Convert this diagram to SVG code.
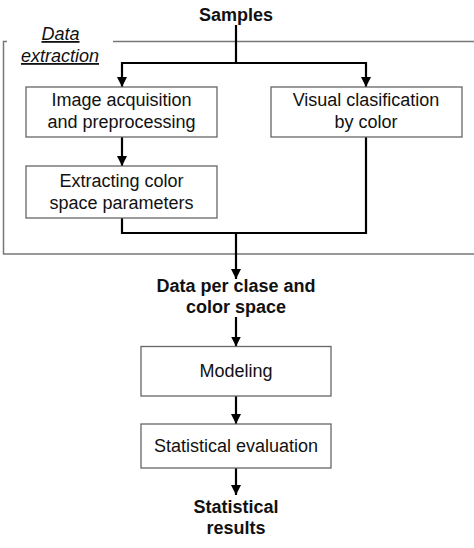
<svg xmlns="http://www.w3.org/2000/svg" width="474" height="548" viewBox="0 0 474 548">
<defs>
<marker id="ah" viewBox="0 0 10 10" refX="10" refY="5" markerWidth="10" markerHeight="10" markerUnits="userSpaceOnUse" orient="auto">
<path d="M0,0 L10,5 L0,10 z" fill="#000"/>
</marker>
<style>
.box{fill:#fff;stroke:#666;stroke-width:1.3}
.t{font-family:"Liberation Sans",Arial,sans-serif;font-size:18px;fill:#111;text-anchor:middle}
.b{font-weight:bold}
.c{fill:none;stroke:#000;stroke-width:2.2}
.grp{fill:none;stroke:#777;stroke-width:1.5}
</style>
</defs>
<rect width="474" height="548" fill="#fff"/>
<g id="group-data-extraction">
<path class="grp" d="M113,41.5 H476 M7,41.5 H3.5 V254 H476"/>
<text class="t" x="60.5" y="40" font-style="italic" text-decoration="underline">Data</text>
<text class="t" x="60" y="62" font-style="italic" text-decoration="underline">extraction</text>
</g>
<g id="connectors">
<path class="c" d="M236,25 V63"/>
<path class="c" d="M236,63 H122 V87" marker-end="url(#ah)"/>
<path class="c" d="M236,63 H366 V87" marker-end="url(#ah)"/>
<path class="c" d="M122,137 V166" marker-end="url(#ah)"/>
<path class="c" d="M122,218 V233 H366 V137"/>
<path class="c" d="M236,233 V279" marker-end="url(#ah)"/>
<path class="c" d="M236,317 V346.5" marker-end="url(#ah)"/>
<path class="c" d="M236,396 V424" marker-end="url(#ah)"/>
<path class="c" d="M236,468 V495" marker-end="url(#ah)"/>
</g>
<g id="node-samples">
<text class="t b" x="236" y="21">Samples</text>
</g>
<g id="node-image">
<rect class="box" x="26" y="87" width="191" height="50"/>
<text class="t" x="121.5" y="106">Image acquisition</text>
<text class="t" x="121.5" y="128">and preprocessing</text>
</g>
<g id="node-visual">
<rect class="box" x="271" y="87" width="191" height="50"/>
<text class="t" x="366" y="106">Visual clasification</text>
<text class="t" x="366" y="128">by color</text>
</g>
<g id="node-extracting">
<rect class="box" x="26" y="166" width="191" height="52"/>
<text class="t" x="121.5" y="187">Extracting color</text>
<text class="t" x="121.5" y="209">space parameters</text>
</g>
<g id="node-data">
<text class="t b" x="236" y="292">Data per clase and</text>
<text class="t b" x="236" y="313">color space</text>
</g>
<g id="node-modeling">
<rect class="box" x="141" y="346.5" width="190" height="49.5"/>
<text class="t" x="236" y="377">Modeling</text>
</g>
<g id="node-eval">
<rect class="box" x="141" y="424" width="190" height="44"/>
<text class="t" x="236" y="452">Statistical evaluation</text>
</g>
<g id="node-results">
<text class="t b" x="236" y="513">Statistical</text>
<text class="t b" x="236" y="534">results</text>
</g>
</svg>
